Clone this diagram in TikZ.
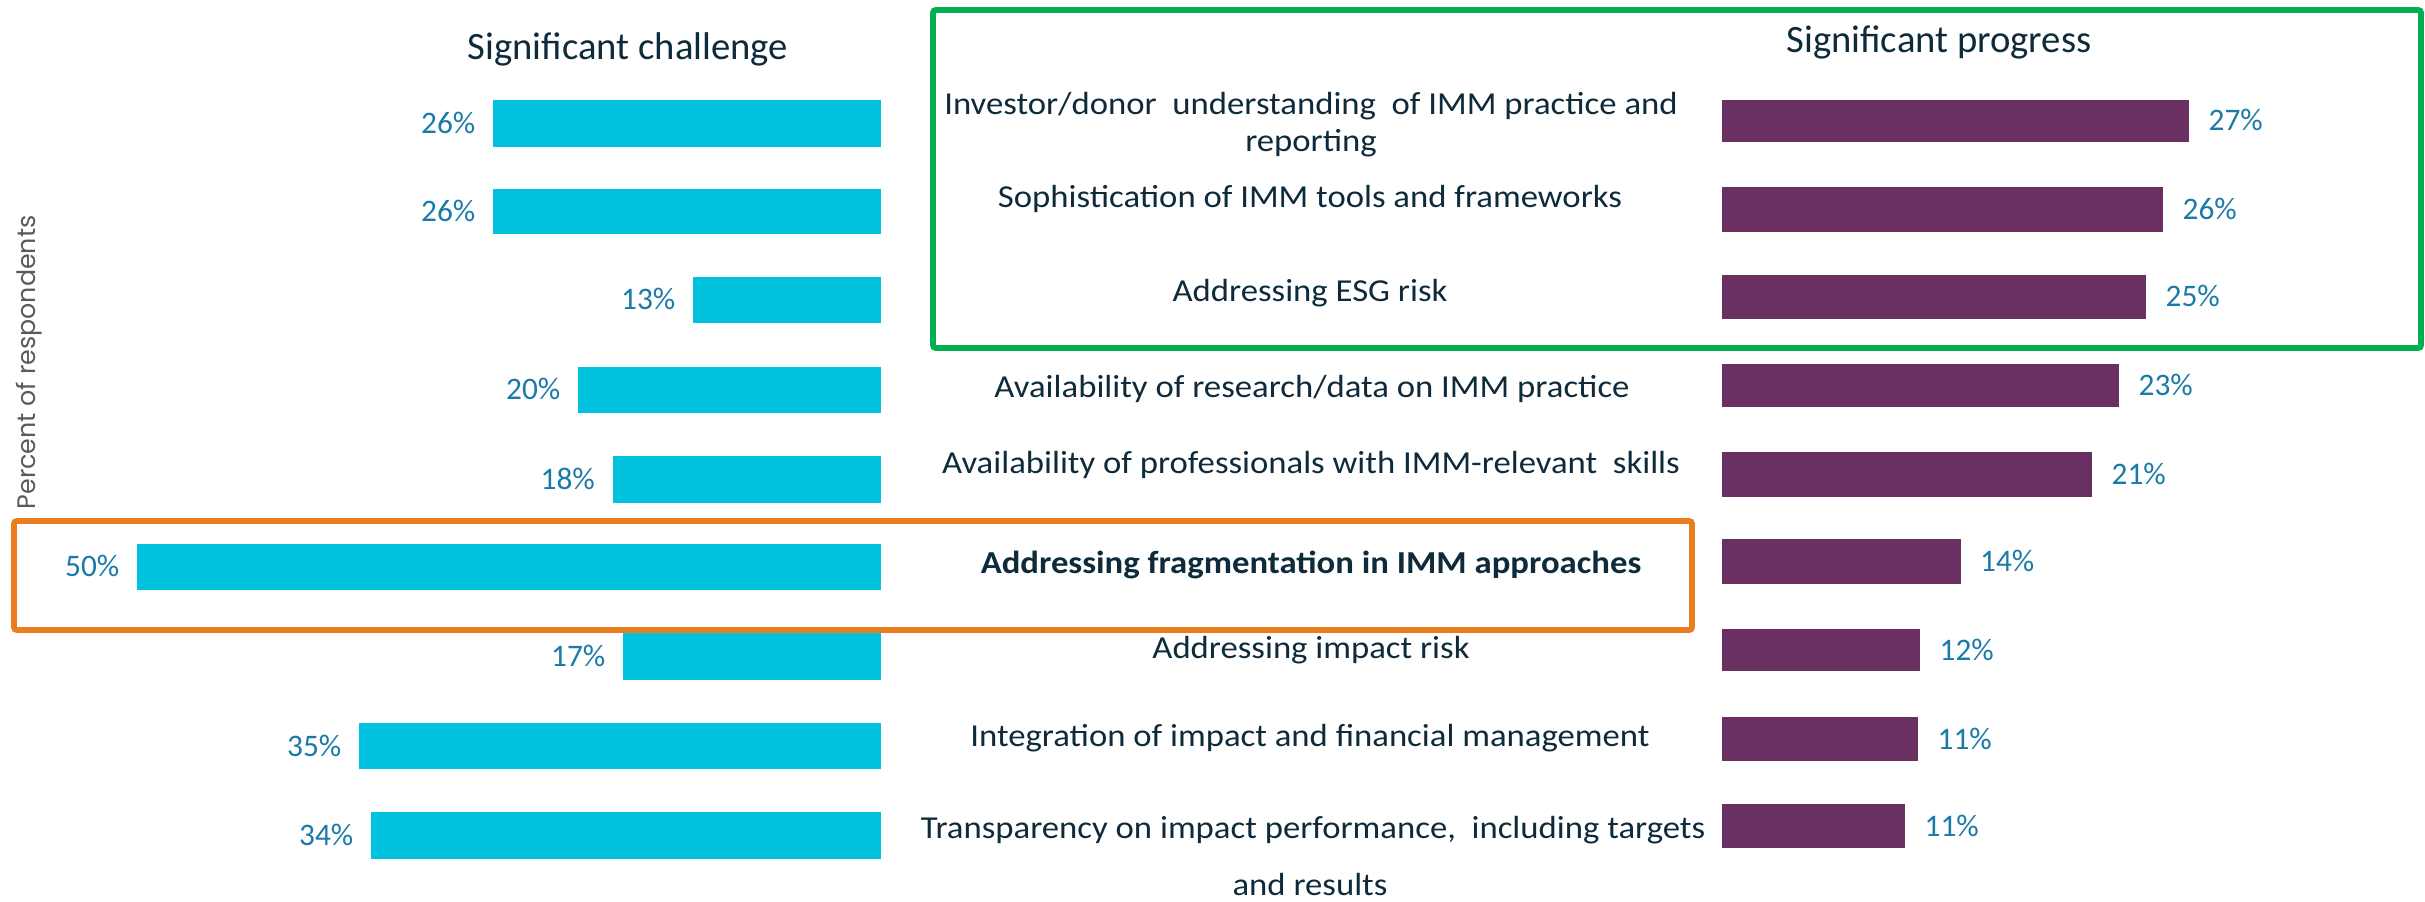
\documentclass[tikz,border=0pt]{standalone}
\usepackage{fontspec}
\setmainfont{Carlito}
\newfontfamily\catfont[FakeStretch=1.085]{Carlito}
\newfontfamily\axisfont{Poppins}
\definecolor{cyanbar}{HTML}{00C1DE}
\definecolor{purplebar}{HTML}{6A3062}
\definecolor{pctblue}{HTML}{1A7AA8}
\definecolor{navytext}{HTML}{0F2B3B}
\definecolor{boxgreen}{HTML}{00B050}
\definecolor{boxorange}{HTML}{E97E1F}
\definecolor{axisgray}{HTML}{5A5A5A}
\begin{document}
\begin{tikzpicture}[x=0.3pt,y=-0.3pt,
  pct/.style={inner sep=0pt, text=pctblue, font=\fontsize{9.4pt}{11pt}\selectfont},
  cat/.style={inner sep=0pt, text=navytext, font=\catfont\fontsize{9.6pt}{11pt}\selectfont, anchor=base},
  head/.style={inner sep=0pt, text=navytext, font=\fontsize{11.6pt}{14pt}\selectfont, anchor=base},
  hlbox/.style={line width=1.7pt, rounded corners=0.8pt}]
\useasboundingbox (0,0) rectangle (2425,902);
% headings
\node[head] (hchal) at (628,60) {Significant challenge};
\node[head] (hprog) at (1939,53) {Significant progress};
% axis label
\node[inner sep=0pt, rotate=90, anchor=base west, text=axisgray,
  font=\axisfont\fontsize{7.6pt}{9pt}\selectfont] (ylab) at (35,510) {Percent of respondents};
% left bars
\foreach \t/\b/\l/\v [count=\i] in {100/147/493/26,189/234/493/26,277/323/693/13,
  367/413/578/20,456/503/612.5/18,544/590/137/50,633/680/623/17,723/769/359/35,812/859/371/34}{
  \fill[cyanbar] (\l,\t) rectangle (881,\b);
  \node[pct, anchor=base east] (lp\i) at ({\l-17},{(\t+\b)/2+10}) {\v\%};
}
% right bars
\foreach \t/\b/\r/\v [count=\i] in {100/142/2189/27,187/232/2163/26,275/319/2146/25,
  364/407/2119/23,452/497/2092/21,539/584/1960.5/14,629/671/1920/12,717/761/1918/11,804/848/1905/11}{
  \fill[purplebar] (1721.5,\t) rectangle (\r,\b);
  \node[pct, anchor=base west] (rp\i) at ({\r+19},{(\t+\b)/2+10}) {\v\%};
}
% categories
\node[cat] (c1a) at (1311,115) {Investor/donor\ \ understanding\ \ of IMM practice and};
\node[cat] (c1b) at (1311,152) {reporting};
\node[cat] (c2) at (1310,208) {Sophistication of IMM tools and frameworks};
\node[cat] (c3) at (1310,302) {Addressing ESG risk};
\node[cat] (c4) at (1312,398) {Availability of research/data on IMM practice};
\node[cat] (c5) at (1311,474) {Availability of professionals with IMM-relevant\ \ skills};
\node[cat, font=\catfont\fontsize{9.6pt}{11pt}\selectfont\bfseries] (c6) at (1311,573) {Addressing fragmentation in IMM approaches};
\node[cat] (c7) at (1311,658) {Addressing impact risk};
\node[cat] (c8) at (1310,746) {Integration of impact and financial management};
\node[cat] (c9a) at (1313,838) {Transparency on impact performance,\ \ including targets};
\node[cat] (c9b) at (1310,895) {and results};
% highlight boxes
\draw[hlbox, boxgreen] (933,10) rectangle (2421,348);
\draw[hlbox, boxorange] (14,521) rectangle (1692,630);
\end{tikzpicture}
\end{document}
